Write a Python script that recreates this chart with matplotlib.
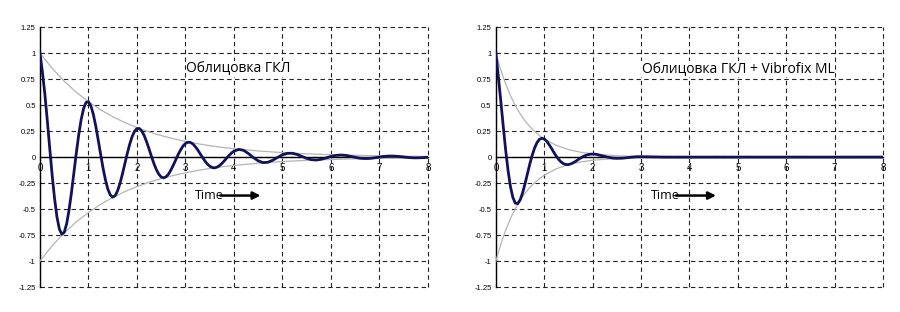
import numpy as np
import matplotlib
matplotlib.use("Agg")
import matplotlib.pyplot as plt

plt.rcParams['font.family'] = ['Liberation Sans', 'DejaVu Sans']

# readings (time in s, amplitude)
t_fine = [round(0.05 * i, 2) for i in range(81)]                 # 0 .. 4.0
t_coarse = [round(4.1 + 0.1 * i, 1) for i in range(40)]          # 4.1 .. 8.0

gkl_fine = [1.0, 0.820, 0.611, 0.360, 0.094, -0.166, -0.394, -0.574, -0.692, -0.742,
            -0.724, -0.642, -0.509, -0.340, -0.150, 0.040, 0.216, 0.362, 0.467, 0.525,
            0.533, 0.493, 0.412, 0.301, 0.168, 0.030, -0.103, -0.218, -0.308, -0.364,
            -0.385, -0.372, -0.325, -0.254, -0.164, -0.065, 0.034, 0.123, 0.196, 0.248,
            0.274, 0.275, 0.251, 0.207, 0.147, 0.078, 0.006, -0.062, -0.120, -0.164,
            -0.191, -0.200, -0.190, -0.164, -0.125, -0.078, -0.027, 0.024, 0.069, 0.106,
            0.131, 0.143, 0.141, 0.128, 0.103, 0.072, 0.035, -0.001, -0.036, -0.066,
            -0.087, -0.100, -0.104, -0.097, -0.083, -0.062, -0.037, -0.010, 0.016, 0.039,
            0.057]
gkl_coarse = [0.074, 0.065, 0.034, -0.004, -0.036, -0.053, -0.050, -0.030, -0.003, 0.022,
              0.036, 0.037, 0.026, 0.007, -0.012, -0.025, -0.028, -0.021, -0.008, 0.006,
              0.016, 0.020, 0.017, 0.008, -0.002, -0.011, -0.014, -0.013, -0.007, 0.000,
              0.007, 0.010, 0.010, 0.006, 0.001, -0.004, -0.007, -0.007, -0.005, -0.002]

t_vib = [round(0.05 * i, 2) for i in range(61)] + [3.5, 8.0]
vib = [1.0, 0.775, 0.546, 0.305, 0.075, -0.125, -0.282, -0.388, -0.442, -0.448,
       -0.413, -0.347, -0.260, -0.164, -0.068, 0.017, 0.088, 0.140, 0.171, 0.181,
       0.174, 0.152, 0.120, 0.083, 0.044, 0.007, -0.024, -0.048, -0.064, -0.072,
       -0.072, -0.065, -0.054, -0.040, -0.024, -0.009, 0.005, 0.015, 0.023, 0.028,
       0.029, 0.028, 0.024, 0.018, 0.012, 0.006, 0.000, -0.004, -0.008, -0.011,
       -0.012, -0.011, -0.011, -0.009, -0.006, -0.004, -0.001, 0.001, 0.003, 0.004,
       0.004, 0.0, 0.0]

t_env1 = [0, 0.25, 0.5, 0.75, 1, 1.25, 1.5, 1.75, 2, 2.25, 2.5, 2.75, 3, 3.25, 3.5, 3.75,
          4, 4.5, 5, 5.5, 6, 6.5, 7, 7.5, 8]
env1 = [1.0, 0.854, 0.730, 0.623, 0.533, 0.455, 0.389, 0.332, 0.284, 0.242, 0.207, 0.177,
        0.151, 0.129, 0.110, 0.094, 0.080, 0.059, 0.043, 0.031, 0.023, 0.017, 0.012, 0.009, 0.006]

t_env2 = [0, 0.1, 0.2, 0.3, 0.4, 0.5, 0.6, 0.7, 0.8, 0.9, 1.0, 1.25, 1.5, 1.75, 2.0, 2.5, 3, 4, 8]
env2 = [1.0, 0.839, 0.705, 0.592, 0.497, 0.417, 0.350, 0.294, 0.247, 0.207, 0.174, 0.112,
        0.072, 0.047, 0.030, 0.013, 0.005, 0.001, 0.0]

x_ticks = [0, 1, 2, 3, 4, 5, 6, 7, 8]
y_ticks = [-1.25, -1, -0.75, -0.5, -0.25, 0, 0.25, 0.5, 0.75, 1, 1.25]
y_labels = ['-1.25', '-1', '-0.75', '-0.5', '-0.25', '0', '0.25', '0.5', '0.75', '1', '1.25']
titles = ['Облицовка ГКЛ', 'Облицовка ГКЛ + Vibrofix ML']

fig = plt.figure(figsize=(9, 3.12), dpi=100)
ax1 = fig.add_axes([0.0444, 0.080, 0.431, 0.833])
ax2 = fig.add_axes([0.551, 0.080, 0.430, 0.833])

series = [
    (ax1, t_fine + t_coarse, gkl_fine + gkl_coarse, t_env1, env1),
    (ax2, t_vib, vib, t_env2, env2),
]

for i, (ax, t, y, te, e) in enumerate(series):
    ax.set_xlim(0, 8)
    ax.set_ylim(-1.25, 1.25)
    ax.set_xticks(x_ticks)
    ax.set_yticks(y_ticks)
    ax.set_yticklabels(y_labels)
    ax.grid(True, color='#222222', linestyle=(0, (4, 3)), linewidth=0.8)
    ax.set_axisbelow(True)
    for s in ['top', 'right']:
        ax.spines[s].set_visible(False)
    ax.spines['bottom'].set_position(('data', 0))
    ax.spines['left'].set_linewidth(1.0)
    ax.spines['bottom'].set_linewidth(1.0)
    ax.tick_params(length=0, labelsize=5.5, pad=3)
    ax.tick_params(axis='x', labelsize=7, pad=4)
    # keep the outer gridlines (1.25, -1.25, 8) from being clipped
    for gl in ax.get_xgridlines() + ax.get_ygridlines():
        gl.set_clip_on(False)

    ax.plot(te, e, color='#b4b4b4', lw=0.9, zorder=3)
    ax.plot(te, [-v for v in e], color='#b4b4b4', lw=0.9, zorder=3)
    ax.plot(t, y, color='#12125a', lw=2.0, zorder=4)

    ax.text(3.02, 0.85, titles[i], fontsize=10, family=['Open Sans', 'DejaVu Sans'],
            va='center', ha='left',
            bbox=dict(facecolor='white', edgecolor='none', pad=0.5))
    ax.text(3.2, -0.37, 'Time', fontsize=9, family=['Open Sans', 'DejaVu Sans'],
            va='center', ha='left')
    ax.annotate('', xy=(4.55, -0.37), xytext=(3.72, -0.37),
                arrowprops=dict(arrowstyle='-|>', color='black', lw=1.8,
                                mutation_scale=11, shrinkA=0, shrinkB=0))

fig.savefig('out.png', dpi=100)
